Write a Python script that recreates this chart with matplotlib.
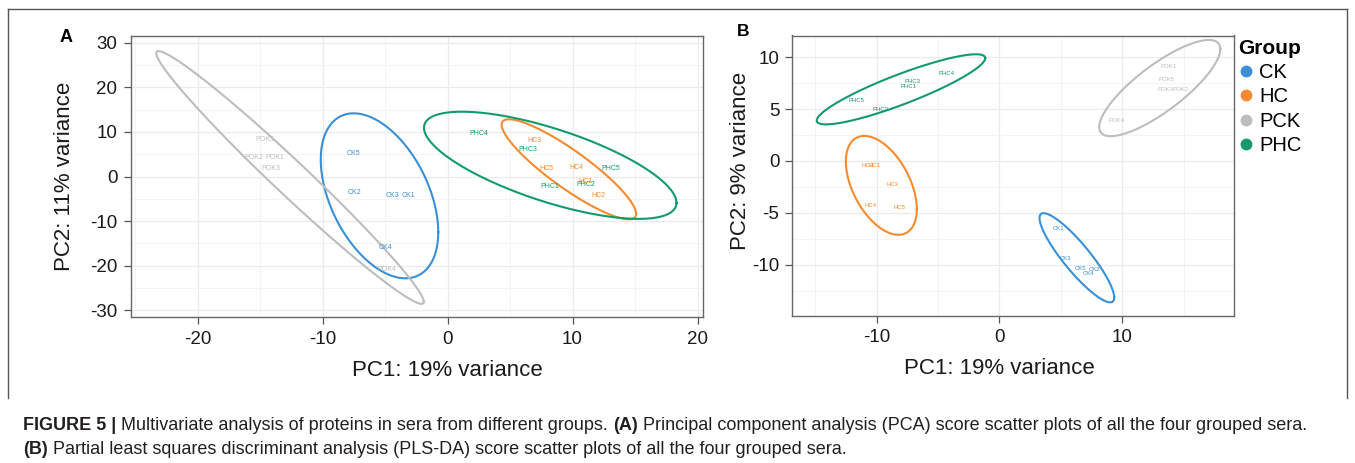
import matplotlib
matplotlib.use("Agg")
import matplotlib.pyplot as plt
import numpy as np
from matplotlib.lines import Line2D
from matplotlib.transforms import blended_transform_factory
from matplotlib import font_manager

plt.rcParams['font.family'] = ['Liberation Sans', 'DejaVu Sans']
plt.rcParams['axes.unicode_minus'] = False

# ---------------- data ----------------
groups = ["CK", "HC", "PCK", "PHC"]
group_colors = ["#3a8fd6", "#f58a2f", "#bdbdbd", "#139a6c"]

# Panel A: PCA scores
pca_labels = ["CK1", "CK2", "CK3", "CK4", "CK5",
              "HC1", "HC2", "HC3", "HC4", "HC5",
              "POK1", "POK2", "POK3", "POK4", "POK5",
              "PHC1", "PHC2", "PHC3", "PHC4", "PHC5"]
pca_group = ["CK"] * 5 + ["HC"] * 5 + ["PCK"] * 5 + ["PHC"] * 5
pca_x = [-3.13, -7.40, -4.44, -4.94, -7.54,
         11.06, 12.07, 6.92, 10.34, 7.94,
         -13.78, -15.48, -14.10, -4.82, -14.60,
         8.20, 11.06, 6.42, 2.46, 13.06]
pca_y = [-4.2, -3.7, -4.3, -15.9, 5.28,
         -1.17, -4.16, 8.2, 2.07, 1.69,
         4.38, 4.38, 1.9, -20.9, 8.36,
         -2.29, -1.69, 5.96, 9.7, 1.69]
# PCA confidence ellipses (center, sd-x, sd-y, correlation) per group
pca_ell_cx = [-5.44, 9.71, -12.60, 8.22]
pca_ell_cy = [-4.34, 1.62, -0.22, 2.52]
pca_ell_sx = [4.70, 5.38, 10.70, 10.10]
pca_ell_sy = [18.54, 11.24, 28.40, 12.04]
pca_ell_r = [-0.44, -0.89, -0.983, -0.70]

# Panel B: PLS-DA scores
pls_labels = pca_labels
pls_group = pca_group
pls_x = [4.80, 7.71, 5.35, 7.25, 6.57,
         -10.15, -10.75, -8.68, -10.53, -8.17,
         13.76, 14.70, 13.55, 9.50, 13.57,
         -7.41, -9.71, -7.05, -4.28, -11.61]
pls_y = [-6.48, -10.5, -9.44, -10.89, -10.35,
         -0.45, -0.45, -2.25, -4.28, -4.45,
         9.09, 6.9, 6.9, 3.94, 7.87,
         7.22, 5.0, 7.71, 8.45, 5.87]
pls_ell_cx = [6.30, -9.62, 13.05, -8.02]
pls_ell_cy = [-9.33, -2.35, 7.03, 6.91]
pls_ell_sx = [3.04, 2.89, 4.93, 6.86]
pls_ell_sy = [4.30, 4.77, 4.64, 3.38]
pls_ell_r = [-0.89, -0.48, 0.81, 0.89]

pca_xticks = [-20, -10, 0, 10, 20]
pca_yticks = [-30, -20, -10, 0, 10, 20, 30]
pls_xticks = [-10, 0, 10]
pls_yticks = [-10, -5, 0, 5, 10]

# ---------------- figure ----------------
W, H = 1355, 463
fig = plt.figure(figsize=(W / 100, H / 100), dpi=100)


def px_axes(l, t, r, b):
    return fig.add_axes([l / W, 1 - b / H, (r - l) / W, (b - t) / H])


def ellipse_xy(cx, cy, sx, sy, r, n=300):
    t = np.linspace(0, 2 * np.pi, n)
    x = cx + sx * np.cos(t)
    y = cy + sy * (r * np.cos(t) + np.sqrt(1 - r * r) * np.sin(t))
    return x, y


def style_axes(ax, xticks, yticks, xminor, yminor, xlim, ylim, ypad):
    ax.set_xlim(*xlim)
    ax.set_ylim(*ylim)
    ax.set_xticks(xticks)
    ax.set_yticks(yticks)
    ax.set_xticklabels([str(v) for v in xticks])
    ax.set_yticklabels([str(v) for v in yticks])
    ax.set_xticks(xminor, minor=True)
    ax.set_yticks(yminor, minor=True)
    ax.grid(True, which="major", color="#ebebeb", lw=0.9, zorder=0)
    ax.grid(True, which="minor", color="#f3f3f3", lw=0.6, zorder=0)
    ax.set_axisbelow(True)
    ax.tick_params(which="major", length=4.8, width=0.9, color="#555555",
                   labelsize=13.5, labelcolor="#1a1a1a")
    ax.tick_params(axis="x", which="major", pad=5)
    ax.tick_params(axis="y", which="major", pad=ypad)
    ax.tick_params(which="minor", length=0)
    for s in ax.spines.values():
        s.set_color("#666666")
        s.set_linewidth(1.0)


def draw_panel(ax, labels, grp, xs, ys, ecx, ecy, esx, esy, er, fs):
    cmap = dict(zip(groups, group_colors))
    for i, g in enumerate(groups):
        ex, ey = ellipse_xy(ecx[i], ecy[i], esx[i], esy[i], er[i])
        ax.plot(ex, ey, color=group_colors[i], lw=1.5, zorder=2)
    for lab, g, x, y in zip(labels, grp, xs, ys):
        ax.text(x, y, lab, color=cmap[g], fontsize=fs, ha="center",
                va="center", zorder=3)


# Panel A
axA = px_axes(131, 36, 703, 317)
style_axes(axA, pca_xticks, pca_yticks,
           [-25, -15, -5, 5, 15], [-25, -15, -5, 5, 15, 25],
           (-25.32, 20.44), (-31.57, 31.57), 5)
draw_panel(axA, pca_labels, pca_group, pca_x, pca_y,
           pca_ell_cx, pca_ell_cy, pca_ell_sx, pca_ell_sy, pca_ell_r, 5.0)
axA.set_xlabel("PC1: 19% variance", fontsize=16, color="#1a1a1a", va="center")
axA.set_ylabel("PC2: 11% variance", fontsize=16, color="#1a1a1a", va="center")
axA.xaxis.set_label_coords(0, -0.19, transform=blended_transform_factory(axA.transData, axA.transAxes))
axA.yaxis.set_label_coords(-0.1163, 0, transform=blended_transform_factory(axA.transAxes, axA.transData))

# Panel B
axB = px_axes(791.7, 35.5, 1234.3, 315.5)
style_axes(axB, pls_xticks, pls_yticks,
           [-15, -5, 5, 15], [-12.5, -7.5, -2.5, 2.5, 7.5],
           (-16.92, 19.12), (-14.9, 12.1), 4)
draw_panel(axB, pls_labels, pls_group, pls_x, pls_y,
           pls_ell_cx, pls_ell_cy, pls_ell_sx, pls_ell_sy, pls_ell_r, 4.3)
axB.set_xlabel("PC1: 19% variance", fontsize=16, color="#1a1a1a", va="center")
axB.set_ylabel("PC2: 9% variance", fontsize=16, color="#1a1a1a", va="center")
axB.xaxis.set_label_coords(0, -0.19, transform=blended_transform_factory(axB.transData, axB.transAxes))
axB.yaxis.set_label_coords(-0.1146, 0, transform=blended_transform_factory(axB.transAxes, axB.transData))

# Legend
handles = [Line2D([], [], ls="none", marker="o", markersize=7.5,
                  markerfacecolor=c, markeredgecolor=c) for c in group_colors]
leg = fig.legend(handles, groups, loc="upper left",
                 bbox_to_anchor=(1238 / W, 1 - 39 / H), frameon=False,
                 fontsize=14.5, title="Group",
                 title_fontproperties={"weight": "bold", "size": 15},
                 handlelength=0.8, handletextpad=0.25, labelspacing=0.26,
                 borderpad=0, borderaxespad=0, alignment="left")

# Panel letters
fig.text(66 / W, 1 - 38 / H, "A", fontsize=13, fontweight="bold",
         ha="center", va="center")
fig.text(743 / W, 1 - 31 / H, "B", fontsize=12.5, fontweight="bold",
         ha="center", va="center")

# Outer frame
frame_col = "#555555"
fig.add_artist(Line2D([8 / W, 8 / W], [1 - 398 / H, 1 - 9 / H], color=frame_col, lw=1.0))
fig.add_artist(Line2D([8 / W, 1347 / W], [1 - 9 / H, 1 - 9 / H], color=frame_col, lw=1.0))
fig.add_artist(Line2D([1347 / W, 1347 / W], [1 - 398 / H, 1 - 9 / H], color=frame_col, lw=1.0))

# Caption
names = {f.name for f in font_manager.fontManager.ttflist}
cap_family = "Liberation Sans Narrow" if "Liberation Sans Narrow" in names else "Liberation Sans"
line1 = [("FIGURE 5 | ", "bold"),
         ("Multivariate analysis of proteins in sera from different groups. ", "normal"),
         ("(A)", "bold"),
         (" Principal component analysis (PCA) score scatter plots of all the four grouped sera.", "normal")]
line2 = [("(B)", "bold"),
         (" Partial least squares discriminant analysis (PLS-DA) score scatter plots of all the four grouped sera.", "normal")]

renderer = fig.canvas.get_renderer()


def measure(parts, fs):
    tot = 0
    for s, w in parts:
        t = fig.text(0, 0, s, fontsize=fs, fontweight=w, family=cap_family)
        tot += t.get_window_extent(renderer).width
        t.remove()
    return tot


fs0 = 12
wid = measure(line1, fs0)
cap_fs = fs0 * (1283 / wid)


def place(parts, x0, yc):
    x = x0
    for s, w in parts:
        t = fig.text(x / W, 1 - yc / H, s, fontsize=cap_fs, fontweight=w,
                     family=cap_family, color="#231f20", va="center", ha="left")
        x = x + t.get_window_extent(renderer).width


place(line1, 23, 425)
place(line2, 23, 450)

fig.savefig("out.png", dpi=100)
